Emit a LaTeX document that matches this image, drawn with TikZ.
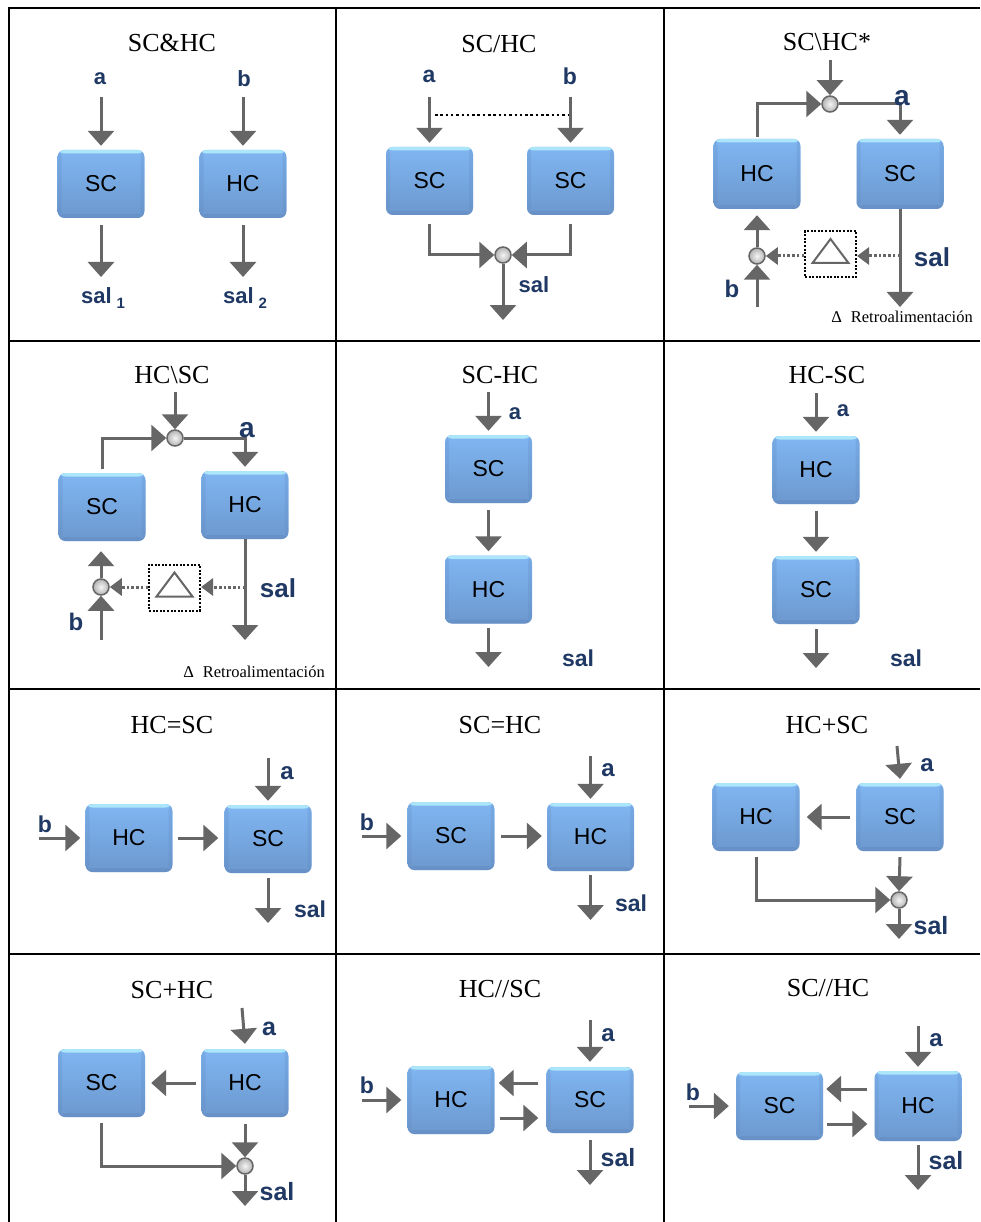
\documentclass[tikz,border=0pt]{standalone}
\usepackage{fontspec}
\setmainfont{Liberation Serif}
\setsansfont{Liberation Sans}
\usetikzlibrary{arrows.meta,shadings}
\definecolor{boxtop}{RGB}{128,182,242}
\definecolor{boxbot}{RGB}{108,152,206}
\definecolor{boxhi}{RGB}{172,230,250}
\definecolor{boxrim}{RGB}{96,136,190}
\definecolor{arrgray}{RGB}{102,102,102}
\definecolor{lblblue}{RGB}{31,56,100}
\begin{document}
\begin{tikzpicture}[x=1pt,y=-1pt,
  box/.style={rectangle, rounded corners=7pt, minimum width=87pt, minimum height=68pt,
    inner sep=0pt, top color=boxtop, bottom color=boxbot,
    font=\sffamily\fontsize{23}{26}\selectfont, text=black,
    path picture={
      \fill[boxhi] ([yshift=-3.5pt]path picture bounding box.north west) rectangle (path picture bounding box.north east);
      \fill[boxrim,opacity=.45] (path picture bounding box.south west) rectangle ([yshift=4pt]path picture bounding box.south east);
      \fill[boxrim,opacity=.25] (path picture bounding box.south west) rectangle ([xshift=4pt]path picture bounding box.north west);
      \fill[boxrim,opacity=.25] ([xshift=-4pt]path picture bounding box.south east) rectangle (path picture bounding box.north east);
    }},
  arr/.style={draw=arrgray, line width=3pt, -{Triangle[length=15pt,width=26pt]}},
  darr/.style={draw=arrgray, line width=3pt, dash pattern=on 2.5pt off 2.2pt, -{Triangle[length=12pt,width=17pt]}},
  kdots/.style={draw=black, line width=2.5pt, dash pattern=on 2.5pt off 2.8pt},
  fbbox/.style={draw=black, line width=2pt, dash pattern=on 2pt off 1.6pt, minimum width=51pt, minimum height=46pt, inner sep=0pt},
  tri/.style={draw=arrgray, line width=2pt, line join=miter},
  jn/.style={circle, minimum size=16pt, inner sep=0pt, draw=arrgray, line width=1.5pt, shading=radial, inner color=gray!8, outer color=gray!60},
  lbl/.style={font=\sffamily\bfseries\fontsize{#1}{#1}\selectfont, text=lblblue, inner sep=0pt},
  lbl/.default=23,
  ttl/.style={font=\fontsize{26}{30}\selectfont, inner sep=0pt},
  retro/.style={font=\fontsize{16.5}{18}\selectfont, inner sep=0pt},
  grid/.style={draw=black, line width=2pt}
]
\useasboundingbox (0,0) rectangle (980,1222);
\fill[white] (0,0) rectangle (980,1222);
% table grid
\draw[grid] (8,8) -- (980,8);
\draw[grid] (8,341) -- (980,341);
\draw[grid] (8,689) -- (980,689);
\draw[grid] (8,954) -- (980,954);
\draw[grid] (9,7) -- (9,1222);
\draw[grid] (336,7) -- (336,1222);
\draw[grid] (664,7) -- (664,1222);

% ---------- Cell 1: SC&HC
\node[ttl] (t1) at (172,43) {SC\&HC};
\node[box] (c1sc) at (101,184) {SC};
\node[box] (c1hc) at (243,184) {HC};
\node[lbl=22] (c1a) at (100,79) {a};
\node[lbl=22] (c1b) at (244,79) {b};
\coordinate (c1ai) at (101,97);
\coordinate (c1bi) at (243,97);
\coordinate (c1o1) at (101,277);
\coordinate (c1o2) at (243,277);
\draw[arr] (c1ai) -- ([yshift=4pt]c1sc.north);
\draw[arr] (c1bi) -- ([yshift=4pt]c1hc.north);
\draw[arr] ([yshift=-7pt]c1sc.south) -- (c1o1);
\draw[arr] ([yshift=-7pt]c1hc.south) -- (c1o2);
\node[lbl=22] (c1s1) at (103,298) {sal\hspace{5pt}\raisebox{-5pt}{\fontsize{15}{15}\selectfont 1}};
\node[lbl=22] (c1s2) at (245,298) {sal\hspace{5pt}\raisebox{-5pt}{\fontsize{15}{15}\selectfont 2}};

% ---------- Cell 2: SC/HC
\node[ttl] (t2) at (499,44) {SC/HC};
\node[box] (c2l) at (429.5,181) {SC};
\node[box] (c2r) at (570.5,181) {SC};
\node[lbl=23] (c2a) at (429,76) {a};
\node[lbl=23] (c2b) at (570,76) {b};
\coordinate (c2ai) at (429.5,97);
\coordinate (c2bi) at (570.5,97);
\draw[arr] (c2ai) -- ([yshift=4pt]c2l.north);
\draw[arr] (c2bi) -- ([yshift=4pt]c2r.north);
\coordinate (c2d1) at (435,115);
\coordinate (c2d2) at (568,115);
\draw[kdots] (c2d1) -- (c2d2);
\node[jn] (c2j) at (503,255) {};
\draw[arr] ([yshift=-9pt]c2l.south) |- (c2j.west);
\draw[arr] ([yshift=-9pt]c2r.south) |- (c2j.east);
\coordinate (c2o) at (503,320);
\draw[arr] (c2j.south) -- (c2o);
\node[lbl=22] (c2s) at (534,285) {sal};

% ---------- Cell 3: SC\HC*
\node[ttl] (t3) at (827,42) {SC\textbackslash HC*};
\node[box, minimum height=70pt] (c3hc) at (757,174) {HC};
\node[box, minimum height=70pt] (c3sc) at (900,174) {SC};
\node[jn] (c3j1) at (830,104) {};
\coordinate (c3in) at (830,60);
\draw[arr] (c3in) -- (c3j1.north);
\draw[arr] ([yshift=2pt]c3hc.north) |- (c3j1.west);
\draw[arr] (c3j1.east) -| ([yshift=4pt]c3sc.north);
\node[lbl=28] (c3a) at (902,98) {a};
\coordinate (c3out) at (900,307);
\draw[arr] (c3sc.south) -- (c3out);
\node[fbbox] (c3fb) at (830.5,254) {};
\draw[tri] ([xshift=-18pt,yshift=-9pt]c3fb.center) -- ([xshift=18pt,yshift=-9pt]c3fb.center) -- ([yshift=15pt]c3fb.center) -- cycle;
\node[jn] (c3j2) at (757,256) {};
\coordinate (c3tap) at (900,256);
\draw[darr] (c3tap) -- (c3tap -| c3fb.east);
\draw[darr] (c3fb.west |- c3j2) -- (c3j2.east);
\draw[arr] (c3j2.north) -- ([yshift=-6pt]c3hc.south);
\coordinate (c3bi) at (757,307);
\draw[arr] (c3bi) -- (c3j2.south);
\node[lbl=24] (c3b) at (732,289) {b};
\node[lbl=26] (c3s) at (932,257) {sal};
\node[retro] (c3r) at (902,317) {Δ\hspace{9pt}Retroalimentación};

% ---------- Cell 4: HC\SC
\node[ttl] (t4) at (172,375) {HC\textbackslash SC};
\node[box] (c4sc) at (102,507) {SC};
\node[box] (c4hc) at (245,505) {HC};
\node[jn] (c4j1) at (175,438) {};
\coordinate (c4in) at (175,392);
\draw[arr] (c4in) -- (c4j1.north);
\draw[arr] ([yshift=4pt]c4sc.north) |- (c4j1.west);
\draw[arr] (c4j1.east) -| ([yshift=4pt]c4hc.north);
\node[lbl=28] (c4a) at (247,430) {a};
\coordinate (c4out) at (245,640);
\draw[arr] (c4hc.south) -- (c4out);
\node[fbbox] (c4fb) at (174.5,587.5) {};
\draw[tri] ([xshift=-18pt,yshift=-9pt]c4fb.center) -- ([xshift=18pt,yshift=-9pt]c4fb.center) -- ([yshift=15pt]c4fb.center) -- cycle;
\node[jn] (c4j2) at (101,587) {};
\coordinate (c4tap) at (245,587);
\draw[darr] (c4tap) -- (c4tap -| c4fb.east);
\draw[darr] (c4fb.west |- c4j2) -- (c4j2.east);
\draw[arr] (c4j2.north) -- ([yshift=-10pt]c4sc.south -| c4j2.north);
\coordinate (c4bi) at (101,640);
\draw[arr] (c4bi) -- (c4j2.south);
\node[lbl=24] (c4b) at (76,622) {b};
\node[lbl=26] (c4s) at (278,588) {sal};
\node[retro] (c4r) at (254,672) {Δ\hspace{9pt}Retroalimentación};

% ---------- Cell 5: SC-HC
\node[ttl] (t5) at (500,375) {SC-HC};
\node[box] (c5sc) at (488.5,469) {SC};
\node[box] (c5hc) at (488.5,589.5) {HC};
\coordinate (c5in) at (488.5,392);
\draw[arr] (c5in) -- ([yshift=4pt]c5sc.north);
\node[lbl=22] (c5a) at (515,414) {a};
\draw[arr] ([yshift=-7pt]c5sc.south) -- ([yshift=4pt]c5hc.north);
\coordinate (c5out) at (488.5,667);
\draw[arr] ([yshift=-4pt]c5hc.south) -- (c5out);
\node[lbl=23] (c5s) at (578,658) {sal};

% ---------- Cell 6: HC-SC
\node[ttl] (t6) at (827,375) {HC-SC};
\node[box] (c6hc) at (816,470) {HC};
\node[box] (c6sc) at (816,590) {SC};
\coordinate (c6in) at (816,393);
\draw[arr] (c6in) -- ([yshift=4pt]c6hc.north);
\node[lbl=22] (c6a) at (843,411) {a};
\draw[arr] ([yshift=-7pt]c6hc.south) -- ([yshift=4pt]c6sc.north);
\coordinate (c6out) at (816,668);
\draw[arr] ([yshift=-5pt]c6sc.south) -- (c6out);
\node[lbl=23] (c6s) at (906,658) {sal};

% ---------- Cell 7: HC=SC
\node[ttl] (t7) at (172,725) {HC=SC};
\node[box] (c7hc) at (129,838) {HC};
\node[box] (c7sc) at (268,839) {SC};
\coordinate (c7ai) at (268,758);
\draw[arr] (c7ai) -- ([yshift=4pt]c7sc.north);
\node[lbl=24] (c7a) at (287,773) {a};
\coordinate (c7bi) at (39,838);
\draw[arr] (c7bi) -- ([xshift=-5pt]c7hc.west);
\node[lbl=23] (c7b) at (45,824) {b};
\draw[arr] ([xshift=5pt]c7hc.east) -- ([xshift=-6pt]c7hc.east -| c7sc.west);
\coordinate (c7out) at (268,923);
\draw[arr] ([yshift=-5pt]c7sc.south) -- (c7out);
\node[lbl=23] (c7s) at (310,909) {sal};

% ---------- Cell 8: SC=HC
\node[ttl] (t8) at (500,725) {SC=HC};
\node[box] (c8sc) at (451,836) {SC};
\node[box] (c8hc) at (590.5,837) {HC};
\coordinate (c8ai) at (590.5,756);
\draw[arr] (c8ai) -- ([yshift=4pt]c8hc.north);
\node[lbl=24] (c8a) at (608,770) {a};
\coordinate (c8bi) at (362,836);
\draw[arr] (c8bi) -- ([xshift=-6pt]c8sc.west);
\node[lbl=23] (c8b) at (367,822) {b};
\draw[arr] ([xshift=6pt]c8sc.east) -- ([xshift=-5pt]c8sc.east -| c8hc.west);
\coordinate (c8out) at (590.5,920);
\draw[arr] ([yshift=-4pt]c8hc.south) -- (c8out);
\node[lbl=23] (c8s) at (631,903) {sal};

% ---------- Cell 9: HC+SC
\node[ttl] (t9) at (827,725) {HC+SC};
\node[box] (c9hc) at (756,817) {HC};
\node[box] (c9sc) at (900,817) {SC};
\coordinate (c9ai) at (897,746);
\draw[arr] (c9ai) -- ([yshift=4pt]c9sc.north);
\node[lbl=24] (c9a) at (927,765) {a};
\draw[arr] ([xshift=-6pt]c9sc.west) -- ([xshift=7pt]c9hc.east);
\node[jn] (c9j) at (899,900) {};
\draw[arr] ([yshift=-6pt]c9hc.south) |- (c9j.west);
\draw[arr] ([yshift=-6pt]c9sc.south) -- (c9j.north);
\coordinate (c9out) at (899,939);
\draw[arr] (c9j.south) -- (c9out);
\node[lbl=25] (c9s) at (931,926) {sal};

% ---------- Cell 10: SC+HC
\node[ttl] (t10) at (172,990) {SC+HC};
\node[box] (c10sc) at (101.5,1083) {SC};
\node[box] (c10hc) at (245,1083) {HC};
\coordinate (c10ai) at (242,1008);
\draw[arr] (c10ai) -- ([yshift=5pt]c10hc.north);
\node[lbl=25] (c10a) at (269,1029) {a};
\draw[arr] ([xshift=-5pt]c10hc.west) -- ([xshift=6pt]c10sc.east);
\node[jn] (c10j) at (245,1166) {};
\draw[arr] ([yshift=-6pt]c10sc.south) |- (c10j.west);
\draw[arr] ([yshift=-7pt]c10hc.south) -- (c10j.north);
\coordinate (c10out) at (245,1206);
\draw[arr] (c10j.south) -- (c10out);
\node[lbl=25] (c10s) at (277,1192) {sal};

% ---------- Cell 11: HC//SC
\node[ttl] (t11) at (500,989) {HC//SC};
\node[box] (c11hc) at (451,1100) {HC};
\node[box, minimum height=66pt] (c11sc) at (590,1100) {SC};
\coordinate (c11ai) at (590,1020);
\draw[arr] (c11ai) -- ([yshift=5pt]c11sc.north);
\node[lbl=24] (c11a) at (608,1035) {a};
\coordinate (c11bi) at (362,1100);
\draw[arr] (c11bi) -- ([xshift=-6pt]c11hc.west);
\node[lbl=23] (c11b) at (367,1085) {b};
\draw[arr] ([yshift=17pt,xshift=-8pt]c11sc.west) -- ([yshift=17pt,xshift=4pt]c11hc.east);
\draw[arr] ([yshift=-18pt,xshift=5pt]c11hc.east) -- ([yshift=-18pt,xshift=-8pt]c11sc.west);
\coordinate (c11out) at (590,1185);
\draw[arr] ([yshift=-7pt]c11sc.south) -- (c11out);
\node[lbl=25] (c11s) at (618,1158) {sal};

% ---------- Cell 12: SC//HC
\node[ttl] (t12) at (828,988) {SC//HC};
\node[box] (c12sc) at (779.5,1106) {SC};
\node[box, minimum height=70pt] (c12hc) at (918,1106) {HC};
\coordinate (c12ai) at (918,1026);
\draw[arr] (c12ai) -- ([yshift=4pt]c12hc.north);
\node[lbl=24] (c12a) at (936,1040) {a};
\coordinate (c12bi) at (689,1106);
\draw[arr] (c12bi) -- ([xshift=-7pt]c12sc.west);
\node[lbl=23] (c12b) at (693,1092) {b};
\draw[arr] ([yshift=17pt,xshift=-7pt]c12hc.west) -- ([yshift=17pt,xshift=3pt]c12sc.east);
\draw[arr] ([yshift=-18pt,xshift=4pt]c12sc.east) -- ([yshift=-18pt,xshift=-7pt]c12hc.west);
\coordinate (c12out) at (918,1190);
\draw[arr] ([yshift=-4pt]c12hc.south) -- (c12out);
\node[lbl=25] (c12s) at (946,1161) {sal};
\end{tikzpicture}
\end{document}
